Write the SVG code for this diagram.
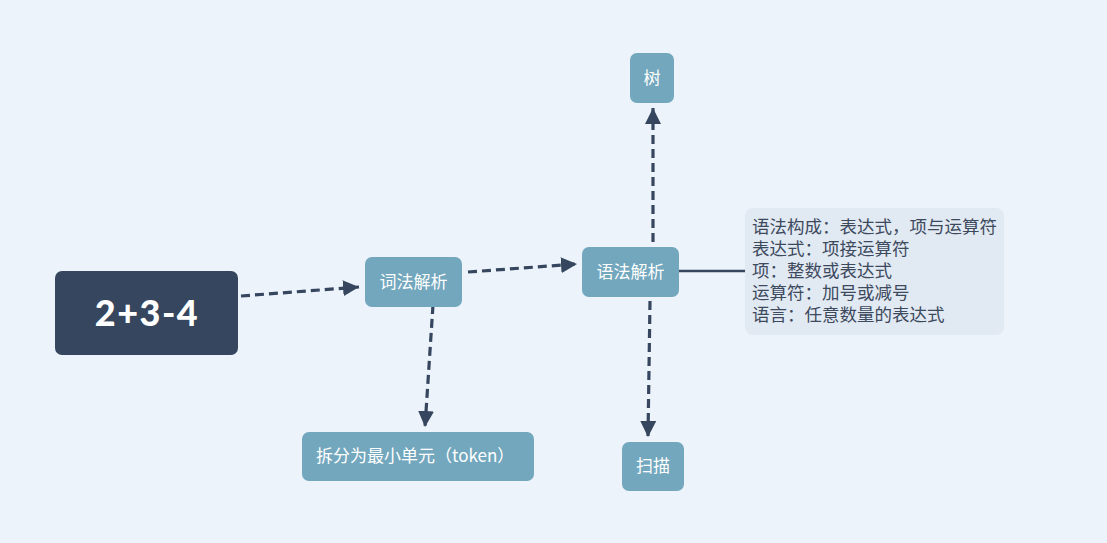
<svg xmlns="http://www.w3.org/2000/svg" width="1107" height="543" viewBox="0 0 1107 543">
<style>
.bg{fill:#ecf3fa}
.node{fill:#72a7bd}
.main{fill:#35465e}
.note{fill:#e1e9f2}
.t{font-family:"Noto Sans CJK SC","Noto Sans",sans-serif;font-size:17px;fill:#ffffff}
.nt{font-family:"Liberation Sans","Noto Sans CJK SC",sans-serif;font-size:17.5px;fill:#3d4a5e}
.mt{font-family:Lato,"Open Sans",sans-serif;font-weight:900;font-size:36px;letter-spacing:1.5px;fill:#ffffff}
.dash{stroke:#35465e;stroke-width:3.2;fill:none;stroke-dasharray:9 5}
.solid{stroke:#35465e;stroke-width:2.5;fill:none}
</style>
<defs>
<marker id="ah" viewBox="0 0 10 10" refX="10" refY="5" markerWidth="5" markerHeight="5" markerUnits="strokeWidth" orient="auto">
<path d="M0,0 L10,5 L0,10 Z" fill="#35465e"/>
</marker>
</defs>
<rect class="bg" x="0" y="0" width="1107" height="543"/>
<g id="connectors">
<line class="dash" x1="241" y1="296" x2="359" y2="287" marker-end="url(#ah)"/>
<line class="dash" x1="468" y1="272" x2="577" y2="264" marker-end="url(#ah)"/>
<line class="dash" x1="433" y1="305" x2="425" y2="427" marker-end="url(#ah)"/>
<line class="dash" x1="653" y1="242" x2="653" y2="108" marker-end="url(#ah)"/>
<line class="dash" x1="650" y1="301" x2="648" y2="437" marker-end="url(#ah)"/>
<line class="solid" x1="679" y1="271" x2="745" y2="271"/>
</g>
<g id="main">
<rect class="main" x="55" y="271" width="183" height="84" rx="7"/>
<text class="mt" x="147" y="326" text-anchor="middle">2+3-4</text>
</g>
<g id="lexer">
<rect class="node" x="365" y="257" width="97" height="50" rx="7"/>
<text class="t" x="413.5" y="288" text-anchor="middle">词法解析</text>
</g>
<g id="parser">
<rect class="node" x="582" y="247" width="97" height="50" rx="7"/>
<text class="t" x="630.5" y="278" text-anchor="middle">语法解析</text>
</g>
<g id="tree">
<rect class="node" x="630" y="53" width="44" height="50" rx="7"/>
<text class="t" x="652" y="84" text-anchor="middle">树</text>
</g>
<g id="scan">
<rect class="node" x="622" y="442" width="62" height="49" rx="7"/>
<text class="t" x="653" y="472" text-anchor="middle">扫描</text>
</g>
<g id="token">
<rect class="node" x="302" y="432" width="232" height="49" rx="7"/>
<text class="t" x="316" y="462">拆分为最小单元（token）</text>
</g>
<g id="note">
<rect class="note" x="745" y="208" width="259" height="127" rx="8"/>
<text class="nt" x="752" y="233">语法构成：表达式，项与运算符</text>
<text class="nt" x="752" y="255">表达式：项接运算符</text>
<text class="nt" x="752" y="277">项：整数或表达式</text>
<text class="nt" x="752" y="299">运算符：加号或减号</text>
<text class="nt" x="752" y="321">语言：任意数量的表达式</text>
</g>
</svg>
